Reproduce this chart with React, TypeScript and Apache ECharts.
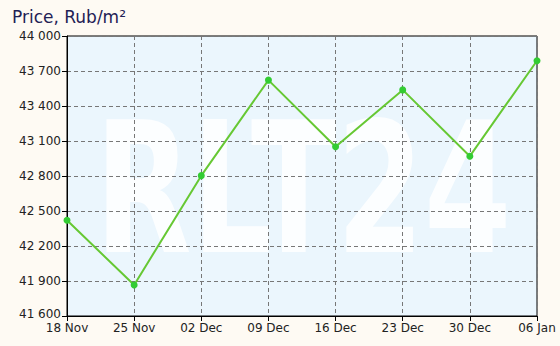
import React, { useEffect, useRef } from "react";
import * as echarts from "echarts";

const categories = ["18 Nov", "25 Nov", "02 Dec", "09 Dec", "16 Dec", "23 Dec", "30 Dec", "06 Jan"];
const prices = [42420, 41866, 42803, 43622, 43050, 43538, 42970, 43788];
const yMin = 41600;
const yMax = 44000;
const yStep = 300;
const titleText = "Price, Rub/m²";
const watermarkText = "RLT24";

const FONT = "DejaVu Sans, Verdana, sans-serif";

const fmt = (v: number) => String(v).replace(/\B(?=(\d{3})+(?!\d))/g, " ");

export default function App() {
  const ref = useRef<HTMLDivElement>(null);
  useEffect(() => {
    if (!ref.current) return;
    const chart = echarts.init(ref.current, null, { renderer: "svg" });
    const gl = 67, gt = 36, gr = 23, gb = 30;
    const W = 560, H = 346;
    chart.setOption({
      animation: false,
      backgroundColor: "#FEFAF3",
      title: {
        text: titleText,
        left: 7,
        top: 3,
        textStyle: { fontFamily: FONT, fontSize: 17, fontWeight: "normal", color: "#1f2155" },
      },
      graphic: [
        {
          type: "rect",
          z: -10,
          silent: true,
          shape: { x: gl, y: gt, width: W - gl - gr, height: H - gt - gb },
          style: { fill: "#EBF6FD" },
        },
        {
          type: "text",
          z: -5,
          silent: true,
          x: 95,
          y: 98,
          scaleX: 0.69,
          style: {
            text: watermarkText,
            fontFamily: FONT,
            fontWeight: "bold",
            fontSize: 182,
            fill: "rgba(255,255,255,0.85)",
            textVerticalAlign: "top",
          },
        },
      ],
      grid: {
        left: gl,
        right: gr,
        top: gt,
        bottom: gb,
        show: true,
        borderColor: "#000",
        borderWidth: 1,
        backgroundColor: "transparent",
      },
      xAxis: {
        type: "category",
        data: categories,
        boundaryGap: false,
        axisLine: { lineStyle: { color: "#000", width: 1 } },
        axisTick: { show: true, length: 5, lineStyle: { color: "#000" } },
        axisLabel: { fontFamily: FONT, fontSize: 12, lineHeight: 12, color: "#222", margin: 6 },
        splitLine: { show: true, lineStyle: { color: "#777", type: [4, 3], width: 1 } },
      },
      yAxis: {
        type: "value",
        min: yMin,
        max: yMax,
        interval: yStep,
        axisLine: { show: true, lineStyle: { color: "#000", width: 1 } },
        axisTick: { show: true, length: 5, lineStyle: { color: "#000" } },
        axisLabel: {
          fontFamily: FONT,
          fontSize: 12,
          lineHeight: 12,
          color: "#222",
          margin: 6,
          formatter: (v: number) => (v === yMin ? "{m|" + fmt(v) + "}" : fmt(v)),
          rich: {
            m: { fontFamily: FONT, fontSize: 12, lineHeight: 12, color: "#222", padding: [0, 0, 4, 0] },
          },
        },
        splitLine: { show: true, lineStyle: { color: "#777", type: [4, 3], width: 1 } },
      },
      series: [
        {
          type: "line",
          data: prices,
          symbol: "circle",
          symbolSize: 7,
          lineStyle: { color: "#66C833", width: 2 },
          itemStyle: { color: "#33CC33" },
        },
      ],
    });
    return () => chart.dispose();
  }, []);
  return <div ref={ref} style={{ width: 560, height: 346, position: "absolute", left: 0, top: 0 }} />;
}
